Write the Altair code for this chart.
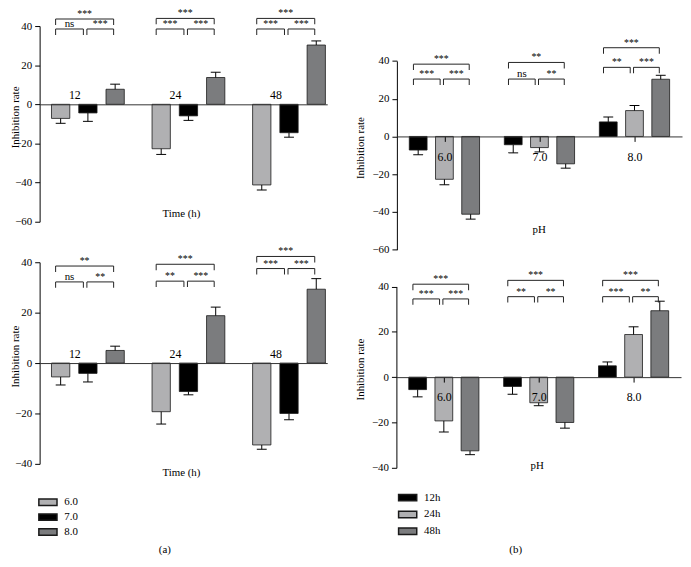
import altair as alt
import pandas as pd

# ---------------- data ----------------
TIMES = ["12", "24", "48"]
TIME_NAMES = ["12h", "24h", "48h"]
PHS = ["6.0", "7.0", "8.0"]
CAPTIONS = ["(a)", "(b)"]

# Top experiment: mean inhibition rate at 12 / 24 / 48 h, one list per pH
top_ph6 = [-7.2, -22.7, -41.2]
top_ph7 = [-4.4, -5.9, -14.5]
top_ph8 = [7.7, 13.7, 30.3]
top_ph6_sd = [2.5, 2.9, 2.6]
top_ph7_sd = [4.3, 2.3, 2.3]
top_ph8_sd = [2.6, 2.7, 2.1]

# Bottom experiment
bot_ph6 = [-5.5, -19.3, -32.5]
bot_ph7 = [-4.1, -11.3, -20.0]
bot_ph8 = [5.0, 18.8, 29.3]
bot_ph6_sd = [3.2, 4.9, 1.7]
bot_ph7_sd = [3.4, 1.3, 2.5]
bot_ph8_sd = [1.7, 3.4, 4.2]

# significance per group: (1st vs 2nd, 2nd vs 3rd, 1st vs 3rd)
sig_a_top = [["ns", "***", "***"], ["***", "***", "***"], ["***", "***", "***"]]
sig_a_bot = [["ns", "**", "**"], ["**", "***", "***"], ["***", "***", "***"]]
sig_b_top = [["***", "***", "***"], ["ns", "**", "**"], ["**", "***", "***"]]
sig_b_bot = [["***", "***", "***"], ["**", "**", "***"], ["***", "**", "***"]]

# bracket heights per group: (pair brackets, overall bracket)
lvl_a_top = [[38.5, 43.6], [38.5, 43.9], [38.5, 43.9]]
lvl_a_bot = [[32.2, 38.5], [32.5, 39.2], [37.5, 42.3]]
lvl_b_top = [[30.4, 38.3], [30.4, 39.2], [36.6, 47.0]]
lvl_b_bot = [[34.5, 41.0], [35.5, 42.7], [35.5, 42.7]]

# ---------------- style ----------------
LIGHT = "#b0b0b2"
BLACK = "#000000"
DARK = "#7b7c7e"
FONT = "Liberation Serif"
W, H = 683, 551
M = 8  # page margin
SYMBOL = "M-1.5,-0.53L1.5,-0.53L1.5,0.53L-1.5,0.53Z"


def panel(matrix, sds, series, colors, groups, sig, lvl, xrng, ydom, yrng,
          yticks, off, bar_w, xtitle, xtitle_pos, ytitle_pos, right, legend):
    xdom = [-0.48, 2.38] if not right else [-0.5, 2.5]
    xr = [xrng[0] - M, xrng[1] - M]
    yr = [yrng[0] - M, yrng[1] - M]
    xs = alt.Scale(domain=xdom, range=xr, nice=False, zero=False, padding=0)
    ys = alt.Scale(domain=ydom, range=yr, nice=False, zero=False, padding=0)
    zero_px = yr[0] + (0 - ydom[0]) / (ydom[1] - ydom[0]) * (yr[1] - yr[0])
    axis_x = xr[0]

    rows = []
    for s in range(3):
        for g in range(3):
            v = matrix[s][g]
            e = sds[s][g]
            sign = 1 if v >= 0 else -1
            rows.append(dict(series=series[s], x=g + (s - 1) * off, value=v,
                             end=v + sign * e, base=0))
    df = pd.DataFrame(rows)

    brk, ends = [], []
    for g in range(3):
        c = [g + (k - 1) * off for k in range(3)]
        spans = [(c[0] - 0.05, c[1] - 0.045, lvl[g][0], sig[g][0]),
                 (c[1] - 0.01, c[2] - 0.015, lvl[g][0], sig[g][1]),
                 (c[0] - 0.05, c[2] - 0.015, lvl[g][1], sig[g][2])]
        for x1, x2, lv, lab in spans:
            brk.append(dict(x1=x1, x2=x2, xm=(x1 + x2) / 2, lvl=lv, label=lab,
                            fs=11 if lab == "ns" else 10))
            ends.append(dict(xe=x1, lvl=lv))
            ends.append(dict(xe=x2, lvl=lv))
    bdf = pd.DataFrame(brk)
    edf = pd.DataFrame(ends)

    if right:
        xaxis = alt.Axis(orient="bottom", offset=zero_px - H, values=[0, 1, 2],
                         labelExpr=f"{groups}[datum.value]", tickSize=5,
                         labelPadding=10, labelFontSize=12, labelFlush=False,
                         labelOverlap=False, domainColor="#333", title=xtitle,
                         titleX=xtitle_pos[0] - M, titleY=xtitle_pos[1] - M - zero_px,
                         titleBaseline="middle", titleAlign="center", zindex=1)
    else:
        xaxis = alt.Axis(orient="bottom", offset=zero_px - H, ticks=False,
                         labels=False, domainColor="#333", title=xtitle,
                         titleX=xtitle_pos[0] - M, titleY=xtitle_pos[1] - M - zero_px,
                         titleBaseline="middle", titleAlign="center", zindex=1)
    yaxis = alt.Axis(orient="left", offset=-axis_x, values=yticks,
                     title="Inhibition rate", titleAngle=270,
                     titleX=ytitle_pos[0] - M - axis_x, titleY=ytitle_pos[1] - M,
                     titleBaseline="middle", titleAlign="center",
                     tickSize=5, labelPadding=3)

    X = lambda f: alt.X(f, scale=xs, axis=None)
    Y = lambda f: alt.Y(f, scale=ys, axis=None)

    bars = alt.Chart(df).mark_bar(size=bar_w, stroke="#1a1a1a", strokeWidth=0.8).encode(
        x=alt.X("x:Q", scale=xs, axis=xaxis),
        y=alt.Y("value:Q", scale=ys, axis=yaxis),
        y2=alt.Y2("base:Q"),
        color=alt.Color("series:N", scale=alt.Scale(domain=series, range=colors),
                        legend=legend),
    )
    err = alt.Chart(df).mark_rule(color="black", strokeWidth=1).encode(
        x=X("x:Q"), y=Y("value:Q"), y2=alt.Y2("end:Q"))
    caps = alt.Chart(df).mark_tick(orient="horizontal", size=10, thickness=1,
                                   color="black", opacity=1).encode(
        x=X("x:Q"), y=Y("end:Q"))
    blines = alt.Chart(bdf).mark_rule(color="#222", strokeWidth=1).encode(
        x=X("x1:Q"), x2=alt.X2("x2:Q"), y=Y("lvl:Q"))
    bends = alt.Chart(edf).mark_tick(orient="vertical", size=6, thickness=1,
                                     yOffset=3, color="#222", opacity=1).encode(
        x=X("xe:Q"), y=Y("lvl:Q"))
    blabels = alt.Chart(bdf).mark_text(baseline="alphabetic", dy=-2, font=FONT,
                                       color="black").encode(
        x=X("xm:Q"), y=Y("lvl:Q"), text="label:N",
        size=alt.Size("fs:Q", scale=None))
    layers = [bars, err, caps, blines, bends, blabels]
    if not right:
        gdf = pd.DataFrame(dict(x=[g - 0.13 for g in range(3)], y=[0, 0, 0],
                                label=groups))
        glab = alt.Chart(gdf).mark_text(baseline="alphabetic", dy=-5, font=FONT,
                                        fontSize=12, color="black").encode(
            x=X("x:Q"), y=Y("y:Q"), text="label:N")
        layers.append(glab)
    return layers


def mat(a, b, c):
    return [a, b, c]


def transpose(m):
    return [[m[g][s] for g in range(3)] for s in range(3)]


top_m = mat(top_ph6, top_ph7, top_ph8)
top_s = mat(top_ph6_sd, top_ph7_sd, top_ph8_sd)
bot_m = mat(bot_ph6, bot_ph7, bot_ph8)
bot_s = mat(bot_ph6_sd, bot_ph7_sd, bot_ph8_sd)

legend_a = alt.Legend(orient="none", legendX=33.4, legendY=489.9, title=None,
                      symbolType=SYMBOL, symbolSize=150, labelFont=FONT,
                      labelFontSize=11, labelOffset=9.6, rowPadding=1, padding=0,
                      labelColor="black")
legend_b = alt.Legend(orient="none", legendX=397.4, legendY=485.2, title=None,
                      symbolType=SYMBOL, symbolSize=150, labelFont=FONT,
                      labelFontSize=11, labelOffset=9.6, rowPadding=3, padding=0,
                      labelColor="black")

p_tl = panel(top_m, top_s, PHS, [LIGHT, BLACK, DARK], TIMES, sig_a_top, lvl_a_top,
             [40, 331], [-60, 40], [221, 23], [-60, -40, -20, 0, 20, 40],
             0.271, 18.5, "Time (h)", (183, 213), (16, 115), False, None)
p_bl = panel(bot_m, bot_s, PHS, [LIGHT, BLACK, DARK], TIMES, sig_a_bot, lvl_a_bot,
             [40, 331], [-40, 40], [466, 262], [-40, -20, 0, 20, 40],
             0.271, 18.5, "Time (h)", (183, 475), (16, 357), False, legend_a)
p_tr = panel(transpose(top_m), transpose(top_s), TIME_NAMES, [BLACK, LIGHT, DARK],
             PHS, sig_b_top, lvl_b_top, [401.5, 690], [-60, 40], [249.3, 58.3],
             [-60, -40, -20, 0, 20, 40], 0.276, 18, "pH", (545, 229), (364.5, 146),
             True, None)
p_br = panel(transpose(bot_m), transpose(bot_s), TIME_NAMES, [BLACK, LIGHT, DARK],
             PHS, sig_b_bot, lvl_b_bot, [401, 689], [-40, 40], [470, 286.5],
             [-40, -20, 0, 20, 40], 0.276, 18, "pH", (543, 468), (365, 370),
             True, legend_b)

cap_df = pd.DataFrame(dict(t=CAPTIONS))
cap_a = alt.Chart(cap_df).transform_filter(alt.datum.t == CAPTIONS[0]).mark_text(
    font=FONT, fontSize=11, color="black").encode(
    x=alt.value(158.7), y=alt.value(545), text="t:N")
cap_b = alt.Chart(cap_df).transform_filter(alt.datum.t == CAPTIONS[1]).mark_text(
    font=FONT, fontSize=11, color="black").encode(
    x=alt.value(513.7), y=alt.value(545), text="t:N")

chart = alt.layer(*(p_tl + p_bl + p_tr + p_br), cap_a, cap_b).resolve_scale(
    x="independent", y="independent", color="independent"
).properties(
    width=W, height=H, padding=0, autosize=alt.AutoSizeParams(type="none")
).configure_view(stroke=None).configure_axis(
    grid=False, labelFont=FONT, titleFont=FONT, labelFontSize=11, titleFontSize=11,
    titleFontWeight="normal", labelColor="black", titleColor="black",
    domainColor="black", tickColor="black"
).configure_text(font=FONT)

chart.save("out.html", embed_options={"renderer": "svg", "actions": False})
